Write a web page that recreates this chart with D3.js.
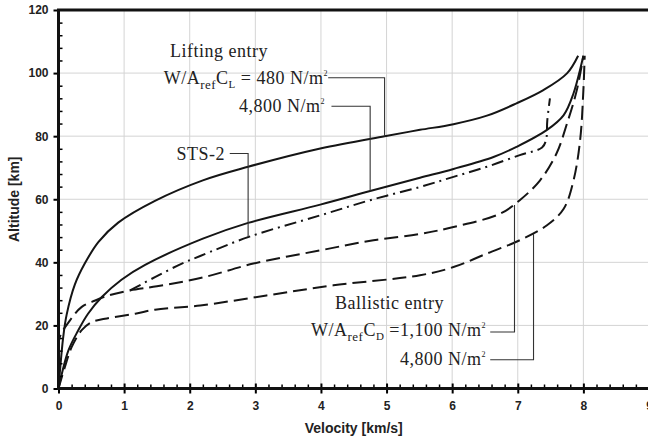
<!DOCTYPE html>
<html>
<head>
<meta charset="utf-8">
<script src="https://cdn.jsdelivr.net/npm/d3@7"></script>
<style>
  body { margin: 0; background: #fff; }
  .ann { font-family: "Liberation Serif", serif; font-size: 18px; fill: #222; letter-spacing: 0.5px; }
  .tick text { font-family: "Liberation Sans", Arial, sans-serif; font-size: 12px; font-weight: bold; fill: #222; }
  .title { font-family: "Liberation Sans", Arial, sans-serif; font-size: 14px; font-weight: bold; fill: #222; }
</style>
</head>
<body>
<script>
// velocity [km/s], altitude [km]
const lifting480 = [[0,0],[0.02,5],[0.07,16],[0.125,23.5],[0.25,33],[0.4,39.6],[0.61,46.5],[0.91,52.6],[1.47,59.5],[2.2,66],[2.89,70.3],[3.99,76.1],[4.97,80],[5.51,82],[6.02,83.8],[6.53,86.5],[6.98,90.4],[7.39,94.6],[7.75,99.9],[7.92,105.5]];
const lifting4800 = [[0,0],[0.15,12],[0.3,18.4],[0.45,23.7],[0.66,29],[0.96,34.5],[1.32,39.2],[2.2,47.5],[2.89,52.5],[3.99,58.3],[4.75,62.6],[5.51,66.8],[6.02,69.6],[6.63,73.4],[6.98,76.6],[7.44,81.9],[7.7,86.7],[7.85,93.6],[8.0,105.5]];
const sts2 = [[1.09,31.1],[1.47,35.3],[1.88,39.6],[2.16,42],[2.89,48],[3.99,54.9],[4.75,59.7],[5.51,63.9],[6.02,67.1],[6.53,70.3],[7.03,74],[7.37,76.4],[7.43,78.7],[7.45,85],[7.49,92]];
const ballistic1100 = [[0,0],[0.005,8],[0.015,16],[0.175,21.6],[0.35,25.8],[0.56,27.9],[0.76,29.5],[1.09,31.1],[1.5,32.4],[2.2,35.2],[2.97,39.6],[3.99,43.8],[4.8,47],[5.51,49],[6.02,51.2],[6.73,55.4],[7.03,59.7],[7.34,66],[7.59,74.5],[7.75,84],[7.9,94.6],[8.0,105.5]];
const ballistic4800 = [[0,0],[0.1,7],[0.2,13.1],[0.35,18.4],[0.5,21],[0.71,22.1],[1.17,23.7],[1.47,25],[2.16,26.3],[3.17,29.5],[4.19,32.7],[5.51,35.9],[6.02,38.5],[6.53,42.8],[7.03,47],[7.44,51.7],[7.7,57],[7.85,66],[7.95,78.7],[8.0,94.6],[8.02,105.5]];

const xTicks = [0, 1, 2, 3, 4, 5, 6, 7, 8, 9];
const yTicks = [0, 20, 40, 60, 80, 100, 120];

// leader lines (data units): text end -> elbow -> curve
const leader480 = [[4.11,98.5],[4.97,98.5],[4.97,80]];
const leaderLift4800 = [[4.16,89.5],[4.75,89.5],[4.75,62.7]];
const leaderSts2 = [[2.61,74.5],[2.89,74.5],[2.89,48]];
const leader1100 = [[6.58,17.9],[6.95,17.9],[6.95,58.2]];
const leaderBal4800 = [[6.58,9.1],[7.24,9.1],[7.24,49]];

const width = 648;
const height = 440;
const marginTop = 10;
const marginLeft = 58.5;
const marginBottom = 51.5;

const x = d3.scaleLinear().domain([0, 9]).range([marginLeft, 649]);
const y = d3.scaleLinear().domain([0, 120]).range([height - marginBottom, marginTop]);

const svg = d3.select("body")
  .append("svg")
    .attr("width", width)
    .attr("height", height)
    .attr("viewBox", [0, 0, width, height]);

// grid
svg.append("g")
    .attr("stroke", "#d4d4d4")
    .attr("stroke-width", 1)
  .selectAll("line")
  .data(xTicks.slice(1))
  .join("line")
    .attr("x1", d => x(d)).attr("x2", d => x(d))
    .attr("y1", y(120)).attr("y2", y(0));
svg.append("g")
    .attr("stroke", "#d4d4d4")
    .attr("stroke-width", 1)
  .selectAll("line")
  .data(yTicks.slice(1, -1))
  .join("line")
    .attr("x1", x(0)).attr("x2", x(9))
    .attr("y1", d => y(d)).attr("y2", d => y(d));

// curves
const line = d3.line()
    .x(d => x(d[0]))
    .y(d => y(d[1]))
    .curve(d3.curveCatmullRom.alpha(0.5));

const curves = [
  { data: lifting480, dash: null },
  { data: lifting4800, dash: null },
  { data: sts2, dash: "12,5,2,5" },
  { data: ballistic1100, dash: "14,6" },
  { data: ballistic4800, dash: "14,6" }
];

svg.append("g")
  .selectAll("path")
  .data(curves)
  .join("path")
    .attr("fill", "none")
    .attr("stroke", "#151515")
    .attr("stroke-width", 2)
    .attr("stroke-dasharray", d => d.dash)
    .attr("d", d => line(d.data));

// leaders
svg.append("g")
  .selectAll("path")
  .data([leader480, leaderLift4800, leaderSts2, leader1100, leaderBal4800])
  .join("path")
    .attr("fill", "none")
    .attr("stroke", "#333")
    .attr("stroke-width", 1.1)
    .attr("d", d3.line().x(d => x(d[0])).y(d => y(d[1])));

// annotations
function label(xp, yp, anchor, parts) {
  const t = svg.append("text").attr("class", "ann")
      .attr("x", xp).attr("y", yp).attr("text-anchor", anchor);
  let shift = 0;
  parts.forEach(p => {
    const s = t.append("tspan").text(p.t);
    const target = p.dy || 0;
    if (target !== shift) s.attr("dy", target - shift);
    shift = target;
    if (p.size) s.attr("font-size", p.size);
  });
}

label(170, 57, "start", [{ t: "Lifting entry" }]);
label(328, 83.5, "end", [
  { t: "W/A" }, { t: "ref", dy: 5, size: 13 }, { t: "C" }, { t: "L", dy: 4, size: 11 },
  { t: " = 480 N/m" }, { t: "2", dy: -8, size: 8 }
]);
label(325, 112, "end", [{ t: "4,800 N/m" }, { t: "2", dy: -8, size: 8 }]);
label(225, 160, "end", [{ t: "STS-2" }]);
label(335, 309, "start", [{ t: "Ballistic entry" }]);
label(486, 336, "end", [
  { t: "W/A" }, { t: "ref", dy: 5, size: 13 }, { t: "C" }, { t: "D", dy: 4, size: 11 },
  { t: " =1,100 N/m" }, { t: "2", dy: -8, size: 8 }
]);
label(486, 365, "end", [{ t: "4,800 N/m" }, { t: "2", dy: -8, size: 8 }]);

// axes
const yMinor = d3.range(0, 121, 4).filter(d => d % 20 !== 0);
const xMinor = d3.range(0, 9.01, 0.2).filter(d => Math.abs(d - Math.round(d)) > 1e-6);

svg.append("g")
    .attr("transform", `translate(${marginLeft},0)`)
    .call(d3.axisLeft(y).tickValues(yTicks).tickSize(5).tickPadding(5))
    .call(g => g.select(".domain").remove())
    .call(g => g.selectAll(".tick line").attr("stroke-width", 2));

svg.append("g")
    .attr("transform", `translate(${marginLeft},0)`)
    .call(d3.axisRight(y).tickValues(yMinor).tickSize(4).tickFormat(""))
    .call(g => g.select(".domain").remove())
    .call(g => g.selectAll(".tick line").attr("stroke-width", 1.5));

svg.append("g")
    .attr("transform", `translate(0,${y(0)})`)
    .call(d3.axisBottom(x).tickValues(xTicks).tickSize(5).tickPadding(8))
    .call(g => g.select(".domain").remove())
    .call(g => g.selectAll(".tick line").attr("y1", -5).attr("stroke-width", 2));

svg.append("g")
    .attr("transform", `translate(0,${y(0)})`)
    .call(d3.axisTop(x).tickValues(xMinor).tickSize(4).tickFormat(""))
    .call(g => g.select(".domain").remove())
    .call(g => g.selectAll(".tick line").attr("stroke-width", 1.5));

// frame
svg.append("path")
    .attr("fill", "none")
    .attr("stroke", "#111")
    .attr("stroke-width", 3)
    .attr("d", `M${x(9) + 2},${y(120)}H${x(0)}V${y(0)}H${x(9) + 2}`);

// titles
svg.append("text")
    .attr("class", "title")
    .attr("text-anchor", "middle")
    .attr("x", (x(0) + x(9)) / 2)
    .attr("y", 433)
    .text("Velocity [km/s]");

svg.append("text")
    .attr("class", "title")
    .attr("text-anchor", "middle")
    .attr("transform", "rotate(-90)")
    .attr("x", -(y(0) + y(120)) / 2)
    .attr("y", 19)
    .text("Altitude [km]");
</script>
</body>
</html>
